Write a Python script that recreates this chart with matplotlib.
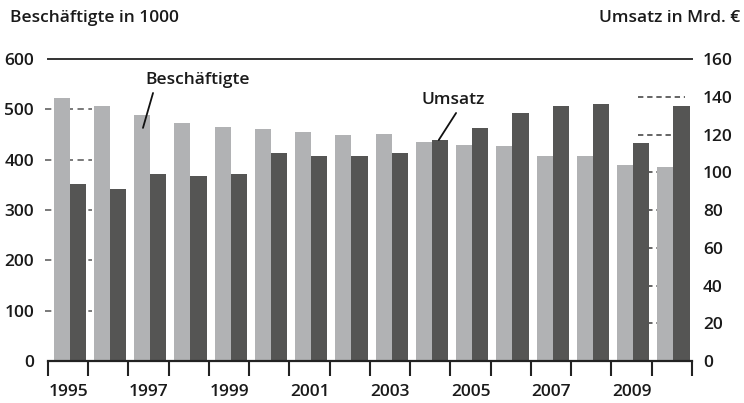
import matplotlib
matplotlib.use("Agg")
import matplotlib.pyplot as plt
import numpy as np

years = list(range(1995, 2011))
beschaeftigte = [523, 507, 489, 472, 464, 460, 455, 449, 451, 436, 429, 427, 408, 408, 390, 386]
umsatz = [93.8, 91.3, 98.9, 98.0, 98.9, 110.4, 108.8, 108.8, 110.4, 117.1, 123.6, 131.2, 135.1, 136.0, 115.3, 135.1]
left_ticks = [0, 100, 200, 300, 400, 500, 600]
right_ticks = [0, 20, 40, 60, 80, 100, 120, 140, 160]
label_years = [1995, 1997, 1999, 2001, 2003, 2005, 2007, 2009]

plt.rcParams['font.family'] = ['Open Sans', 'DejaVu Sans']
plt.rcParams['font.weight'] = 'semibold'

LIGHT = '#b1b2b4'
DARK = '#555554'
TXT = '#1a1a1a'
FS = 12.5

fig = plt.figure(figsize=(7.44, 4.03), dpi=100)
ax = fig.add_axes([0.0645, 0.1042, 0.8655, 0.7494])
ax2 = ax.twinx()

n = len(years)
x = np.arange(n)
ax.bar(x + 0.14, beschaeftigte, width=0.40, align='edge', color=LIGHT, zorder=3, linewidth=0)
ax2.bar(x + 0.54, umsatz, width=0.40, align='edge', color=DARK, zorder=3, linewidth=0)

ax.set_xlim(0, n)
ax.set_ylim(0, 600)
ax2.set_ylim(0, 160)
ax2.set_xlim(0, n)

# local dashed grids near each axis, drawn beneath all bars
for v in left_ticks[1:-1]:
    ax.plot([-0.07, 1.09], [v, v], color='#6e6e6e', lw=1.3, ls=(0, (3.5, 2.5)),
            clip_on=False, zorder=1)
for v in right_ticks[1:-1]:
    ax.plot([14.66, 15.83], [v, v], color='#3a3a3a', lw=1.1, ls=(0, (3.5, 2.5)),
            clip_on=False, zorder=1, transform=ax2.transData)

for a in (ax, ax2):
    for s in ('left', 'right', 'top', 'bottom'):
        a.spines[s].set_visible(False)
ax2.plot([0, n], [160, 160], color='#333333', lw=1.4, clip_on=False, zorder=5)
ax2.plot([0, n], [0, 0], color='#222222', lw=1.6, clip_on=False, zorder=5)

ax.set_yticks(left_ticks)
ax.set_yticklabels([str(v) for v in left_ticks])
ax.tick_params(axis='y', length=0, pad=10, labelsize=FS, labelcolor=TXT)
ax2.set_yticks(right_ticks)
ax2.set_yticklabels([str(v) for v in right_ticks])
ax2.tick_params(axis='y', length=0, pad=8, labelsize=FS, labelcolor=TXT)

ax.set_xticks(np.arange(n + 1))
ax.set_xticklabels([])
ax.tick_params(axis='x', which='major', direction='out', length=11, width=1.5, color='#222222')
ax.set_xticks([years.index(y) + 0.5 for y in label_years], minor=True)
ax.set_xticklabels([str(y) for y in label_years], minor=True)
ax.tick_params(axis='x', which='minor', length=0, pad=16.5, labelsize=FS, labelcolor=TXT)
ax2.tick_params(axis='x', which='both', length=0)

fig.text(10 / 744, 1 - 18 / 403, 'Beschäftigte in 1000', ha='left', va='center', fontsize=FS, color=TXT)
fig.text(740 / 744, 1 - 18 / 403, 'Umsatz in Mrd. €', ha='right', va='center', fontsize=FS, color=TXT)

# annotations
ax2.annotate('', xy=(2.36, 123.5), xytext=(2.61, 142),
             arrowprops=dict(arrowstyle='-', color='#111111', lw=1.3, shrinkA=0, shrinkB=0))
ax.text(3.73, 559, 'Beschäftigte', ha='center', va='center', fontsize=FS, color=TXT)
ax2.annotate('', xy=(9.71, 117.1), xytext=(10.14, 131.4),
             arrowprops=dict(arrowstyle='-', color='#111111', lw=1.3, shrinkA=0, shrinkB=0))
ax2.text(10.06, 138.3, 'Umsatz', ha='center', va='center', fontsize=FS, color=TXT, zorder=6)

fig.savefig('out.png', dpi=100)
